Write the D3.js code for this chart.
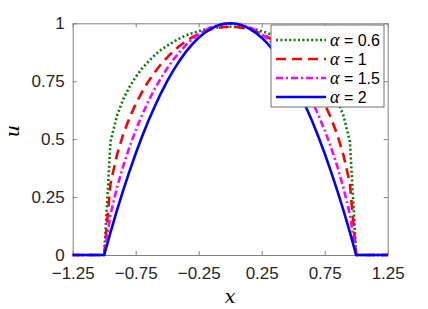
<!DOCTYPE html>
<html>
<head>
<meta charset="utf-8">
<script src="https://cdn.jsdelivr.net/npm/d3@7"></script>
<style>
  body { margin: 0; background: #fff; }
  svg { display: block; }
  .tick text { font-family: "Liberation Sans", Arial, sans-serif; font-size: 17px; fill: #262626; }
</style>
</head>
<body>
<svg id="chart" width="428" height="309"></svg>
<script>
// grid the solutions were read on
const xs = [-1.25, -1,
  -0.95, -0.9, -0.85, -0.8, -0.75, -0.7, -0.65, -0.6, -0.55, -0.5,
  -0.45, -0.4, -0.35, -0.3, -0.25, -0.2, -0.15, -0.1, -0.05, 0,
  0.05, 0.1, 0.15, 0.2, 0.25, 0.3, 0.35, 0.4, 0.45, 0.5,
  0.55, 0.6, 0.65, 0.7, 0.75, 0.8, 0.85, 0.9, 0.95,
  1, 1.25];

// alpha = 0.6
const u06 = [0, 0,
  0.490, 0.599, 0.671, 0.725, 0.768, 0.805, 0.835, 0.862, 0.885, 0.903,
  0.920, 0.935, 0.948, 0.957, 0.966, 0.973, 0.978, 0.982, 0.984, 0.985,
  0.984, 0.982, 0.978, 0.973, 0.966, 0.957, 0.948, 0.935, 0.920, 0.903,
  0.885, 0.862, 0.835, 0.805, 0.768, 0.725, 0.671, 0.599, 0.490,
  0, 0];

// alpha = 1
const u10 = [0, 0,
  0.308, 0.429, 0.519, 0.591, 0.651, 0.703, 0.749, 0.788, 0.823, 0.853,
  0.880, 0.903, 0.923, 0.940, 0.954, 0.965, 0.974, 0.980, 0.984, 0.985,
  0.984, 0.980, 0.974, 0.965, 0.954, 0.940, 0.923, 0.903, 0.880, 0.853,
  0.823, 0.788, 0.749, 0.703, 0.651, 0.591, 0.519, 0.429, 0.308,
  0, 0];

// alpha = 1.5
const u15 = [0, 0,
  0.175, 0.288, 0.382, 0.465, 0.538, 0.604, 0.663, 0.716, 0.763, 0.806,
  0.844, 0.877, 0.907, 0.932, 0.953, 0.970, 0.983, 0.992, 0.997, 0.998,
  0.997, 0.992, 0.983, 0.970, 0.953, 0.932, 0.907, 0.877, 0.844, 0.806,
  0.763, 0.716, 0.663, 0.604, 0.538, 0.465, 0.382, 0.288, 0.175,
  0, 0];

// alpha = 2
const u20 = [0, 0,
  0.098, 0.190, 0.278, 0.360, 0.438, 0.510, 0.578, 0.640, 0.698, 0.750,
  0.798, 0.840, 0.878, 0.910, 0.938, 0.960, 0.978, 0.990, 0.998, 1.000,
  0.998, 0.990, 0.978, 0.960, 0.938, 0.910, 0.878, 0.840, 0.798, 0.750,
  0.698, 0.640, 0.578, 0.510, 0.438, 0.360, 0.278, 0.190, 0.098,
  0, 0];

const seriesNames = ['0.6', '1', '1.5', '2'];
const xTicks = [-1.25, -0.75, -0.25, 0.25, 0.75, 1.25];
const yTicks = [0, 0.25, 0.5, 0.75, 1];

const svg = d3.select('#chart');
const margin = {top: 23.3, right: 40.3, bottom: 54, left: 72.7};
const W = 428, H = 309;

const x = d3.scaleLinear().domain([-1.25, 1.25]).range([margin.left, W - margin.right]);
const y = d3.scaleLinear().domain([0, 1]).range([H - margin.bottom, margin.top]);

const axisColor = '#808080';

// axes (box with inward ticks on all four sides)
const gx = svg.append('g')
  .attr('transform', 'translate(0,' + y(0) + ')')
  .call(d3.axisBottom(x).tickValues(xTicks).tickSizeInner(-4).tickSizeOuter(0).tickPadding(12)
    .tickFormat(d3.format('.2~f')));
const gxt = svg.append('g')
  .attr('transform', 'translate(0,' + y(1) + ')')
  .call(d3.axisTop(x).tickValues(xTicks).tickSizeInner(-4).tickSizeOuter(0).tickFormat(''));
const gy = svg.append('g')
  .attr('transform', 'translate(' + x(-1.25) + ',0)')
  .call(d3.axisLeft(y).tickValues(yTicks).tickSizeInner(-4).tickSizeOuter(0).tickPadding(8)
    .tickFormat(d3.format('~g')));
const gyr = svg.append('g')
  .attr('transform', 'translate(' + x(1.25) + ',0)')
  .call(d3.axisRight(y).tickValues(yTicks).tickSizeInner(-4).tickSizeOuter(0).tickFormat(''));

[gx, gxt, gy, gyr].forEach(g => {
  g.selectAll('path.domain').attr('stroke', axisColor).attr('stroke-width', 1);
  g.selectAll('.tick line').attr('stroke', axisColor);
  g.attr('font-family', null).attr('font-size', null);
});

const styles = [
  {data: u06, color: '#008000', dash: '2,2.4'},
  {data: u10, color: '#ff0000', dash: '10,6'},
  {data: u15, color: '#ff00ff', dash: '7,3,2,3'},
  {data: u20, color: '#0000ff', dash: null}
];

const line = d3.line().x((d, i) => x(xs[i])).y(d => y(d));

const curves = svg.append('g');
styles.forEach(s => {
  curves.append('path')
    .attr('d', line(s.data))
    .attr('fill', 'none')
    .attr('stroke', s.color)
    .attr('stroke-width', 2.6)
    .attr('stroke-dasharray', s.dash)
    .attr('stroke-linejoin', 'round');
});

// axis labels
svg.append('text')
  .attr('x', x(0)).attr('y', 303)
  .attr('text-anchor', 'middle')
  .attr('font-family', '"DejaVu Serif", "Liberation Serif", serif')
  .attr('font-style', 'italic')
  .attr('font-size', 19)
  .text('x');
svg.append('text')
  .attr('transform', 'translate(19,131) rotate(-90)')
  .attr('text-anchor', 'middle')
  .attr('font-family', '"DejaVu Serif", "Liberation Serif", serif')
  .attr('font-style', 'italic')
  .attr('font-size', 19)
  .text('u');

// legend
const lg = svg.append('g');
lg.append('rect')
  .attr('x', 271).attr('y', 25)
  .attr('width', 113).attr('height', 82)
  .attr('fill', '#fff')
  .attr('stroke', '#707070')
  .attr('stroke-width', 1);

styles.forEach((s, i) => {
  const ry = 40 + i * 19;
  lg.append('line')
    .attr('x1', 276).attr('x2', 326)
    .attr('y1', ry).attr('y2', ry)
    .attr('stroke', s.color)
    .attr('stroke-width', 2.6)
    .attr('stroke-dasharray', s.dash);
  const t = lg.append('text')
    .attr('x', 330).attr('y', ry + 6)
    .attr('font-size', 16)
    .attr('fill', '#000');
  t.append('tspan')
    .attr('font-family', '"Liberation Serif", "DejaVu Serif", serif')
    .attr('font-style', 'italic')
    .attr('font-size', 18)
    .text('\u03b1');
  t.append('tspan')
    .attr('font-family', '"Liberation Sans", Arial, sans-serif')
    .text(' = ' + seriesNames[i]);
});
</script>
</body>
</html>
